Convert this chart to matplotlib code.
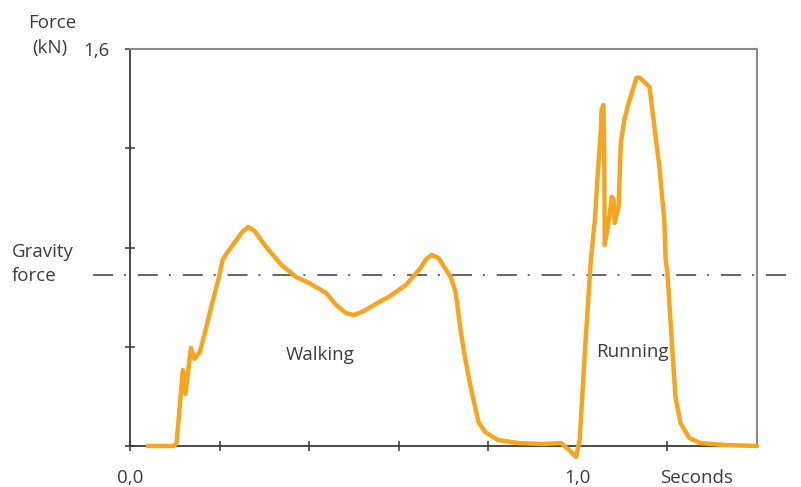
import matplotlib.pyplot as plt

plt.rcParams['font.family'] = ['Open Sans', 'DejaVu Sans']
plt.rcParams['lines.scale_dashes'] = False

# ground reaction force (seconds, kN)
t = [0.040, 0.098, 0.104, 0.118, 0.124, 0.136, 0.144, 0.156, 0.169, 0.182,
     0.196, 0.207, 0.218, 0.251, 0.264, 0.278, 0.304, 0.338, 0.371, 0.400,
     0.438, 0.460, 0.482, 0.500, 0.518, 0.556, 0.578, 0.616, 0.649, 0.660,
     0.673, 0.689, 0.716, 0.727, 0.738, 0.749, 0.762, 0.778, 0.793, 0.822,
     0.867, 0.922, 0.962, 0.978, 0.996, 1.004, 1.016, 1.029, 1.038, 1.044,
     1.051, 1.053, 1.057, 1.059, 1.060, 1.067, 1.076, 1.080, 1.082, 1.091,
     1.096, 1.104, 1.111, 1.131, 1.138, 1.160, 1.171, 1.182, 1.193, 1.196,
     1.200, 1.211, 1.218, 1.229, 1.249, 1.273, 1.327, 1.400]
force = [0.000, 0.000, 0.012, 0.306, 0.210, 0.395, 0.351, 0.379, 0.468, 0.565,
         0.661, 0.750, 0.782, 0.863, 0.883, 0.867, 0.802, 0.730, 0.681, 0.657,
         0.617, 0.569, 0.536, 0.528, 0.540, 0.580, 0.601, 0.649, 0.718, 0.750,
         0.770, 0.758, 0.681, 0.621, 0.468, 0.347, 0.226, 0.097, 0.056, 0.024,
         0.012, 0.008, 0.012, -0.012, -0.044, 0.024, 0.387, 0.750, 0.911, 1.085,
         1.262, 1.355, 1.375, 1.153, 0.810, 0.883, 1.004, 0.992, 0.899, 0.964,
         1.222, 1.315, 1.367, 1.484, 1.484, 1.448, 1.286, 1.125, 0.911, 0.750,
         0.698, 0.387, 0.198, 0.093, 0.032, 0.012, 0.004, 0.000]

gravity = 0.69
gravity_span = [-0.082, 1.489]

xticks = [0.0, 0.2, 0.4, 0.6, 0.8, 1.0, 1.2]
xticklabels = ['0,0', '', '', '', '', '1,0', '']
yticks = [0.0, 0.4, 0.8, 1.2, 1.6]
yticklabels = ['', '', '', '', '1,6']

W, H = 801, 487
fig = plt.figure(figsize=(W / 100, H / 100), dpi=100)
ax = fig.add_axes([130 / W, 41 / H, 627 / W, 397 / H])

txt = '#3c3c3c'
fs = 13.5
ax.plot(t, force, color='#F7A51F', lw=3.2, solid_joinstyle='round',
        solid_capstyle='round', clip_on=False, zorder=3)
ax.plot(gravity_span, [gravity, gravity], color='#3a3a3a', lw=1.1,
        dashes=(14.4, 7.9, 1.4, 8.6), clip_on=False, zorder=2)

ax.set_xlim(0, 1.4)
ax.set_ylim(0, 1.6)
ax.set_xticks(xticks)
ax.set_xticklabels(xticklabels)
ax.set_yticks(yticks)
ax.set_yticklabels(yticklabels)
ax.tick_params(direction='inout', length=7, width=1.1, color='#333333',
               labelsize=fs, labelcolor=txt)
ax.tick_params(axis='x', pad=13)
ax.tick_params(axis='y', pad=11)

for s in ['left', 'bottom']:
    ax.spines[s].set_color('#3a3a3a')
    ax.spines[s].set_linewidth(1.3)
for s in ['top', 'right']:
    ax.spines[s].set_color('#8a8a8a')
    ax.spines[s].set_linewidth(1.5)


def label(px, py, s):
    fig.text(px / W, 1 - py / H, s, fontsize=fs, color=txt,
             ha='left', va='baseline')


label(28, 28, 'Force')
label(32, 53, '(kN)')
label(12, 257, 'Gravity')
label(12, 281, 'force')
label(286, 360, 'Walking')
label(596, 357, 'Running')
label(660, 483, 'Seconds')

fig.savefig('out.png', dpi=100)
